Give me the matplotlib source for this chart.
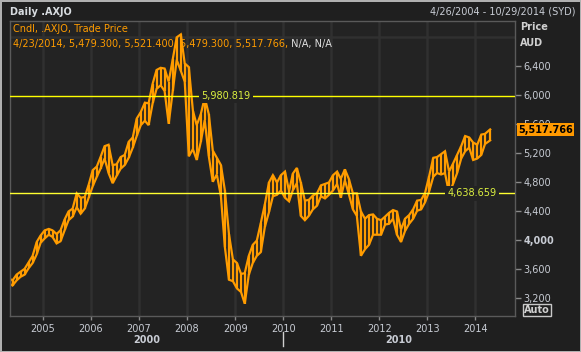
import datetime as dt
import pandas as pd
import matplotlib
matplotlib.use('Agg')
from matplotlib import pyplot as plt
from matplotlib import transforms
import matplotlib.dates as mdates

# monthly trading range of the daily candles (low, high), Apr 2004 .. Apr 2014
lo_2004 = [3390, 3370, 3440, 3490, 3520, 3610, 3680, 3800, 3960]
hi_2004 = [3460, 3440, 3520, 3560, 3600, 3690, 3780, 3970, 4060]
lo_2005 = [4020, 4070, 4040, 3950, 3980, 4130, 4270, 4320, 4450, 4360, 4430, 4580]
hi_2005 = [4130, 4150, 4130, 4080, 4130, 4280, 4390, 4430, 4640, 4580, 4590, 4760]
lo_2006 = [4740, 4870, 4980, 5120, 4920, 4780, 4880, 4980, 5030, 5130, 5270, 5430]
hi_2006 = [4960, 5010, 5140, 5290, 5310, 5030, 5040, 5140, 5170, 5350, 5410, 5670]
lo_2007 = [5580, 5640, 5580, 5880, 6080, 6130, 6050, 5600, 6050, 6480, 6330, 6180]
hi_2007 = [5760, 5890, 5880, 6150, 6340, 6370, 6360, 6180, 6490, 6790, 6830, 6430]
lo_2008 = [5150, 5250, 5100, 5350, 5650, 5150, 4800, 4900, 4600, 3900, 3450, 3430]
hi_2008 = [6380, 5780, 5580, 5730, 5960, 5730, 5230, 5130, 5030, 4680, 4080, 3730]
lo_2009 = [3330, 3280, 3120, 3520, 3680, 3780, 3830, 4180, 4380, 4600, 4620, 4680]
hi_2009 = [3680, 3530, 3540, 3780, 3930, 3990, 4230, 4490, 4790, 4890, 4790, 4890]
lo_2010 = [4580, 4530, 4680, 4780, 4330, 4270, 4330, 4420, 4470, 4600, 4570, 4620]
hi_2010 = [4940, 4670, 4910, 4990, 4790, 4540, 4550, 4610, 4640, 4750, 4770, 4790]
lo_2011 = [4680, 4770, 4580, 4820, 4630, 4420, 4330, 3780, 3870, 3930, 4070, 4070]
hi_2011 = [4890, 4940, 4840, 4970, 4840, 4640, 4640, 4390, 4290, 4340, 4350, 4290]
lo_2012 = [4070, 4210, 4220, 4290, 4070, 3970, 4120, 4220, 4290, 4400, 4420, 4520]
hi_2012 = [4270, 4320, 4370, 4410, 4390, 4140, 4290, 4340, 4420, 4540, 4550, 4650]
lo_2013 = [4670, 4870, 4920, 4900, 4920, 4640, 4770, 4920, 5120, 5220, 5270, 5100]
hi_2013 = [4880, 5130, 5140, 5180, 5220, 4940, 5050, 5170, 5290, 5430, 5410, 5340]
lo_2014 = [5120, 5170, 5320, 5370]
hi_2014 = [5310, 5450, 5460, 5521]

low = lo_2004 + lo_2005 + lo_2006 + lo_2007 + lo_2008 + lo_2009 + lo_2010 + lo_2011 + lo_2012 + lo_2013 + lo_2014
high = hi_2004 + hi_2005 + hi_2006 + hi_2007 + hi_2008 + hi_2009 + hi_2010 + hi_2011 + hi_2012 + hi_2013 + hi_2014

dates = list(pd.date_range('2004-04-01', '2014-04-01', freq='MS') + pd.Timedelta(days=14))
dates[0] = pd.Timestamp('2004-04-26')
dates[-1] = pd.Timestamp('2014-04-23')

last_price = 5517.766
level_hi = 5980.819
level_lo = 4638.659
y_ticks = [3200, 3600, 4000, 4400, 4800, 5200, 5600, 6000, 6400]
y_labels = ['3,200', '3,600', '4,000', '4,400', '4,800', '5,200', '5,600', '6,000', '6,400']
grid_levels = [3200, 3600, 4000, 4400, 4800, 5200, 5600, 6000, 6400, 6800]
years = [2005, 2006, 2007, 2008, 2009, 2010, 2011, 2012, 2013, 2014]
year_labels = [str(y) for y in years]

BG = '#1f1f1f'
AXBG = '#232323'
ORANGE = '#ff9c00'
TXT = '#c8ccd4'

plt.rcParams['font.family'] = ['DejaVu Sans']
fig = plt.figure(figsize=(5.81, 3.52), dpi=100)
fig.patch.set_facecolor(BG)
W, H = 581.0, 352.0
ax = fig.add_axes([10 / W, 1 - 316 / H, 505 / W, 295 / H])
ax.set_facecolor(AXBG)

# candles: hollow band of monthly lows/highs with a bar per month
ax.plot(dates, low, color=ORANGE, lw=1.6, zorder=2, solid_joinstyle='miter')
ax.plot(dates, high, color=ORANGE, lw=1.6, zorder=2, solid_joinstyle='miter')
ax.vlines(dates, low, high, color=ORANGE, lw=1.6, zorder=2)

# horizontal levels
ax.axhline(level_hi, color='#ffff00', lw=1, zorder=3)
ax.axhline(level_lo, color='#ffff30', lw=1, zorder=3)
ax.text(pd.Timestamp('2008-04-20'), level_hi, '5,980.819', color='#dcf040', fontsize=7,
        va='center', ha='left', zorder=3.5,
        bbox=dict(boxstyle='square,pad=0.25', fc=AXBG, ec='none'))
ax.text(pd.Timestamp('2013-06-01'), level_lo, '4,638.659', color='#dcf040', fontsize=7,
        va='center', ha='left', zorder=3.5,
        bbox=dict(boxstyle='square,pad=0.25', fc=AXBG, ec='none'))

ax.set_xlim(dt.datetime(2004, 4, 26), dt.datetime(2014, 10, 29))
ax.set_ylim(2950, 7015)

# y axis on the right
ax.yaxis.tick_right()
ax.set_yticks(y_ticks)
ax.set_yticklabels(y_labels)
ax.set_yticks(grid_levels, minor=True)
for lab in ax.get_yticklabels():
    if lab.get_text() == '4,000':
        lab.set_fontweight('bold')
ax.tick_params(axis='y', which='major', length=4, width=1, color='#8a8a8a',
               labelcolor=TXT, labelsize=7, pad=2)
ax.tick_params(axis='y', which='minor', length=0)

# x axis
xt = [dt.datetime(y, 1, 1) for y in years]
ax.set_xticks(xt)
ax.set_xticklabels(year_labels)
ax.tick_params(axis='x', length=3, width=1, color='#8a8a8a', labelcolor=TXT,
               labelsize=7, pad=3)

ax.grid(True, which='minor', axis='y', color='#303030', lw=1.8)
ax.grid(True, which='major', axis='x', color='#303030', lw=1.8)
ax.set_axisbelow(True)
for sp in ax.spines.values():
    sp.set_color('#5a5a5a')
    sp.set_linewidth(1)

# decade labels under the years
trans = transforms.blended_transform_factory(ax.transData, ax.transAxes)
x0 = mdates.date2num(dt.datetime(2004, 4, 26))
x10 = mdates.date2num(dt.datetime(2010, 1, 1))
x1 = mdates.date2num(dt.datetime(2014, 10, 29))
ax.text((x0 + x10) / 2, -0.082, '2000', transform=trans, color=TXT, fontsize=7,
        fontweight='bold', ha='center', va='center')
ax.text((x10 + x1) / 2, -0.082, '2010', transform=trans, color=TXT, fontsize=7,
        fontweight='bold', ha='center', va='center')
ax.plot([x10, x10], [-0.054, -0.102], transform=trans, color='#d0d0d0', lw=1, clip_on=False)

# legend lines inside plot
t1 = ax.text(0.006, 0.973, 'Cndl, .AXJO, Trade Price', transform=ax.transAxes,
             color=ORANGE, fontsize=7, va='center', ha='left', zorder=1.6)
t2 = ax.text(0.006, 0.922, '4/23/2014, 5,479.300, 5,521.400, 5,479.300, 5,517.766,',
             transform=ax.transAxes, color=ORANGE, fontsize=7, va='center', ha='left', zorder=1.6)
ax.annotate(' N/A, N/A', xy=(1, 0), xycoords=t2, color='#e0e0e0', fontsize=7,
            va='bottom', ha='left', zorder=1.6)

# last price tag
ytrans = transforms.blended_transform_factory(ax.transAxes, ax.transData)
ax.text(1.006, last_price, '5,517.766', transform=ytrans, color='black', fontsize=7,
        fontweight='bold', va='center', ha='left', zorder=5, clip_on=False,
        bbox=dict(boxstyle='square,pad=0.15', fc='#ff9900', ec='none'))

# header / side texts
fig.text(10 / W, 1 - 12 / H, 'Daily .AXJO', color='#d8dce0', fontsize=7, fontweight='bold',
         va='center', ha='left')
fig.text(575 / W, 1 - 12 / H, '4/26/2004 - 10/29/2014 (SYD)', color=TXT, fontsize=7,
         va='center', ha='right')
fig.text(520 / W, 1 - 27 / H, 'Price', color='#d0d0d0', fontsize=7, fontweight='bold',
         va='center', ha='left')
fig.text(520 / W, 1 - 43 / H, 'AUD', color='#d0d0d0', fontsize=7, fontweight='bold',
         va='center', ha='left')
fig.text(524 / W, 1 - 310 / H, 'Auto', color='#d0d0d0', fontsize=7, fontweight='bold',
         va='center', ha='left',
         bbox=dict(boxstyle='square,pad=0.12', fc='none', ec='#c8c8c8', lw=1))

fig.patch.set_edgecolor('#b0b0b0')
fig.patch.set_linewidth(2)

plt.savefig('out.png', dpi=100, facecolor=fig.get_facecolor(), edgecolor=fig.get_edgecolor())
plt.close()
